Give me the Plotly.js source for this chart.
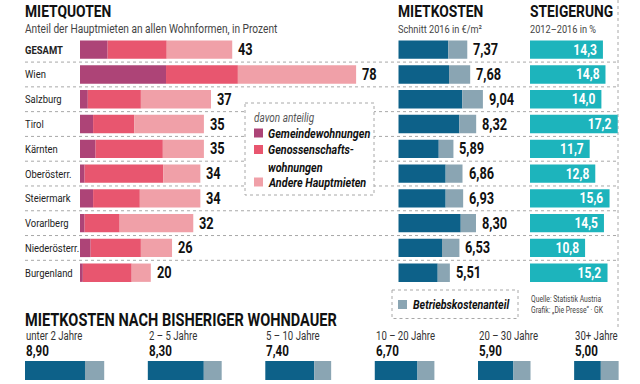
<!DOCTYPE html>
<html><head><meta charset="utf-8">
<script src="https://cdn.plot.ly/plotly-3.0.1.min.js"></script>
<style>html,body{margin:0;padding:0;background:#fff}#chart{width:640px;height:384px}</style>
</head><body><div id="chart"></div>
<script>
// ---- data ----
const regions = ['GESAMT','Wien','Salzburg','Tirol','Kärnten','Oberösterr.','Steiermark','Vorarlberg','Niederösterr.','Burgenland'];
const quote = [43,78,37,35,35,34,34,32,26,20];
const gemeinde = [7.8,24.3,2.2,3.7,4.4,1.3,3.7,1.3,3.0,0.8];
const genoss = [16.7,20.3,15.0,11.6,19.0,22.2,13.2,9.9,14.2,13.8];
const andere = [18.5,33.4,19.8,19.7,11.6,10.5,17.1,20.8,8.8,5.4];
const miete = [7.37,7.68,9.04,8.32,5.89,6.86,6.93,8.30,6.53,5.51];
const mieteNetto = [5.34,5.42,6.84,6.52,4.32,5.06,5.06,6.67,4.67,4.21];
const mieteBK = [2.03,2.26,2.20,1.80,1.57,1.80,1.87,1.63,1.86,1.30];
const steigerung = [14.3,14.8,14.0,17.2,11.7,12.8,15.6,14.5,10.8,15.2];
const dauer = ['unter 2 Jahre','2 – 5 Jahre','5 – 10 Jahre','10 – 20 Jahre','20 – 30 Jahre','30+ Jahre'];
const dauerTotal = [8.90,8.30,7.40,6.70,5.90,5.00];
const dauerNetto = [6.74,6.29,5.50,4.80,3.98,3.00];
const dauerBK = [2.16,2.01,1.90,1.90,1.92,2.00];

// ---- style ----
const W = 640, H = 384;
const px = v => v / W, py = v => 1 - v / H;
const F = "Roboto, 'Liberation Sans', sans-serif";
const C = {gem:'#ad4477', gen:'#e8566f', and:'#f0a0a8', net:'#0d6189', bk:'#8aa5b3', st:'#1db4bc'};
const fmt = (v,d) => v.toFixed(d).replace('.', ',');
const BW = 0.74;
const SQUEEZE = 0.8; // condensed look of the original typeface

const gap = 4.9; // gap between bottom groups, in axis units
const offsets = [];
let acc = 0;
dauerTotal.forEach(t => { offsets.push(acc); acc += t + gap; });
const dy = dauer.map(() => 0);

const traces = [
  {type:'bar', orientation:'h', y:regions, x:gemeinde, base:regions.map(()=>0), width:BW, marker:{color:C.gem}, xaxis:'x', yaxis:'y', hoverinfo:'skip'},
  {type:'bar', orientation:'h', y:regions, x:genoss, base:gemeinde, width:BW, marker:{color:C.gen}, xaxis:'x', yaxis:'y', hoverinfo:'skip'},
  {type:'bar', orientation:'h', y:regions, x:andere, base:gemeinde.map((g,i)=>g+genoss[i]), width:BW, marker:{color:C.and}, xaxis:'x', yaxis:'y', hoverinfo:'skip'},
  {type:'bar', orientation:'h', y:regions, x:mieteNetto, base:regions.map(()=>0), width:BW, marker:{color:C.net}, xaxis:'x2', yaxis:'y', hoverinfo:'skip'},
  {type:'bar', orientation:'h', y:regions, x:mieteBK, base:mieteNetto, width:BW, marker:{color:C.bk}, xaxis:'x2', yaxis:'y', hoverinfo:'skip'},
  {type:'bar', orientation:'h', y:regions, x:steigerung, base:regions.map(()=>0), width:BW, marker:{color:C.st}, xaxis:'x3', yaxis:'y',
   text:steigerung.map(v=>fmt(v,1)), textposition:'inside', insidetextanchor:'end', constraintext:'none', textangle:0,
   insidetextfont:{family:F, size:15, color:'#ffffff', weight:700}, hoverinfo:'skip'},
  {type:'bar', orientation:'h', y:dy, x:dauerNetto, base:offsets, width:1, marker:{color:C.net}, xaxis:'x4', yaxis:'y2', hoverinfo:'skip'},
  {type:'bar', orientation:'h', y:dy, x:dauerBK, base:offsets.map((o,i)=>o+dauerNetto[i]), width:1, marker:{color:C.bk}, xaxis:'x4', yaxis:'y2', hoverinfo:'skip'}
];

const hid = {showgrid:false, zeroline:false, showticklabels:false, showline:false, ticks:'', fixedrange:true};
const rowTop = 37.3, rowBot = 285.1;

const ann = [];
const A = (x, y, text, o) => ann.push(Object.assign({xref:'paper', yref:'paper', x:px(x), y:py(y), text:text, showarrow:false, xanchor:'left', yanchor:'middle', align:'left', borderpad:0, font:{family:F, size:12, color:'#222'}}, o||{}));
// titles
A(24, 11, 'MIETQUOTEN', {font:{family:F, size:17.3, color:'#111', weight:700}});
A(24, 28.5, 'Anteil der Hauptmieten an allen Wohnformen, in Prozent', {font:{family:F, size:12.7, color:'#444'}});
A(397, 11, 'MIETKOSTEN', {font:{family:F, size:17.3, color:'#111', weight:700}});
A(397, 28.5, 'Schnitt 2016 in €/m²', {font:{family:F, size:11.5, color:'#444'}});
A(529, 11, 'STEIGERUNG', {font:{family:F, size:17.3, color:'#111', weight:700}});
A(529, 28.5, '2012–2016 in %', {font:{family:F, size:11.5, color:'#444'}});
// row labels and values
regions.forEach((r,i) => {
  ann.push({xref:'paper', yref:'y', x:px(24), y:r, text:r, showarrow:false, xanchor:'left', yanchor:'middle', align:'left', borderpad:0,
    font:{family:F, size:11.8, color:'#222', weight: i===0 ? 700 : 400}});
  ann.push({xref:'x', yref:'y', x:quote[i], y:r, text:String(quote[i]), showarrow:false, xanchor:'left', yanchor:'middle', align:'left', borderpad:0, xshift:5,
    font:{family:F, size:16, color:'#111', weight:700}});
  ann.push({xref:'x2', yref:'y', x:miete[i], y:r, text:fmt(miete[i],2), showarrow:false, xanchor:'left', yanchor:'middle', align:'left', borderpad:0, xshift:5,
    font:{family:F, size:16, color:'#111', weight:700}});
});
// legend texts
A(253, 117, 'davon anteilig', {font:{family:F, size:12.5, color:'#555', style:'italic'}});
A(267, 133, 'Gemeindewohnungen', {font:{family:F, size:13.5, color:'#111', style:'italic', weight:700}});
A(267, 158, 'Genossenschafts-<br>wohnungen', {font:{family:F, size:13.5, color:'#111', style:'italic', weight:700}});
A(267, 182, 'Andere Hauptmieten', {font:{family:F, size:13.5, color:'#111', style:'italic', weight:700}});
A(412, 304.5, 'Betriebskostenanteil', {font:{family:F, size:13.3, color:'#111', style:'italic', weight:700}});
A(530, 304, 'Quelle: Statistik Austria<br>Grafik: „Die Presse“ · GK', {font:{family:F, size:8.5, color:'#444'}});
// bottom
A(24, 319, 'MIETKOSTEN NACH BISHERIGER WOHNDAUER', {font:{family:F, size:18.2, color:'#111', weight:700}});
dauer.forEach((d,i) => {
  ann.push({xref:'x4', yref:'paper', x:offsets[i], y:py(335.5), text:d, showarrow:false, xanchor:'left', yanchor:'middle', align:'left', borderpad:0,
    font:{family:F, size:12, color:'#333'}});
  ann.push({xref:'x4', yref:'paper', x:offsets[i], y:py(351.5), text:fmt(dauerTotal[i],2), showarrow:false, xanchor:'left', yanchor:'middle', align:'left', borderpad:0,
    font:{family:F, size:14.5, color:'#111', weight:700}});
});

const shapes = [];
const dot = {color:'#a8a8a8', width:1, dash:'dot'};
for (let i = 0; i < regions.length - 1; i++) {
  shapes.push({type:'line', xref:'paper', yref:'y', x0:px(25), x1:px(618), y0:i+0.5, y1:i+0.5, line:dot, layer:'below'});
}
shapes.push({type:'line', xref:'paper', yref:'paper', x0:px(618), x1:px(618), y0:py(0), y1:py(328), line:dot, layer:'below'});
shapes.push({type:'rect', xref:'paper', yref:'paper', x0:px(245), x1:px(374), y0:py(103), y1:py(195), fillcolor:'#fff', line:dot, layer:'below'});
shapes.push({type:'rect', xref:'paper', yref:'paper', x0:px(254), x1:px(263), y0:py(128.5), y1:py(137.5), fillcolor:C.gem, line:{width:0}});
shapes.push({type:'rect', xref:'paper', yref:'paper', x0:px(254), x1:px(263), y0:py(145), y1:py(154), fillcolor:C.gen, line:{width:0}});
shapes.push({type:'rect', xref:'paper', yref:'paper', x0:px(254), x1:px(263), y0:py(177.5), y1:py(186.5), fillcolor:C.and, line:{width:0}});
shapes.push({type:'rect', xref:'paper', yref:'paper', x0:px(392), x1:px(518), y0:py(290), y1:py(318.5), fillcolor:'#fff', line:dot, layer:'below'});
shapes.push({type:'rect', xref:'paper', yref:'paper', x0:px(398), x1:px(407), y0:py(300), y1:py(309), fillcolor:C.bk, line:{width:0}});

const layout = {
  width:W, height:H, margin:{l:0,r:0,t:0,b:0}, paper_bgcolor:'#fff', plot_bgcolor:'rgba(0,0,0,0)',
  showlegend:false, barmode:'overlay', separators:',.', font:{family:F},
  xaxis:Object.assign({domain:[px(80), px(380)], range:[0, 300/3.54], anchor:'y'}, hid),
  xaxis2:Object.assign({domain:[px(398.3), px(525)], range:[0, (525-398.3)/9.36], anchor:'y'}, hid),
  xaxis3:Object.assign({domain:[px(530), px(625)], range:[0, 95/5.1], anchor:'y'}, hid),
  xaxis4:Object.assign({domain:[px(25), px(630)], range:[0, 605/8.9], anchor:'y2'}, hid),
  yaxis:Object.assign({domain:[py(rowBot), py(rowTop)], type:'category', categoryorder:'array', categoryarray:regions, range:[regions.length-0.5, -0.5], anchor:'x'}, hid),
  yaxis2:Object.assign({domain:[py(380), py(361)], range:[-0.5, 0.5], anchor:'x4'}, hid),
  annotations:ann, shapes:shapes
};

// condense rendered text horizontally (the original uses a condensed typeface)
function squeeze(gd) {
  const squeezeEl = el => {
    const len = el.getComputedTextLength();
    if (len > 0) {
      el.setAttribute('textLength', (len * SQUEEZE).toFixed(2));
      el.setAttribute('lengthAdjust', 'spacingAndGlyphs');
    }
  };
  gd.querySelectorAll('svg text').forEach(t => {
    const lines = t.querySelectorAll('tspan.line');
    if (lines.length) lines.forEach(squeezeEl); else squeezeEl(t);
  });
}
Plotly.newPlot('chart', traces, layout, {staticPlot:true, displayModeBar:false}).then(squeeze);
</script></body></html>
